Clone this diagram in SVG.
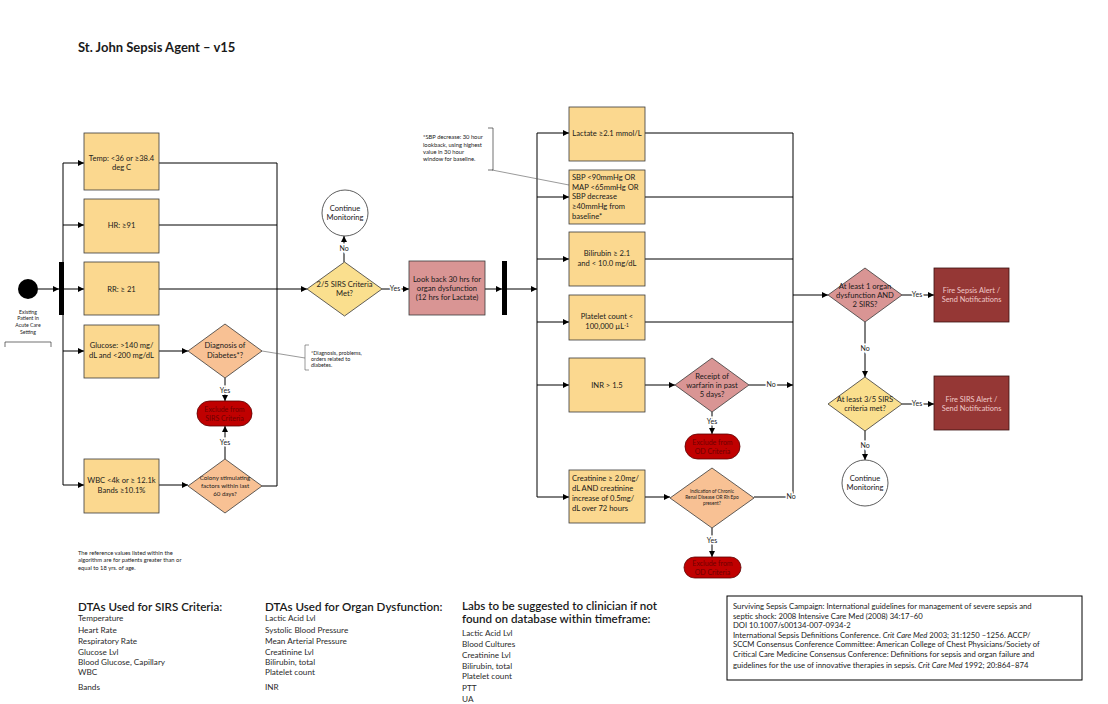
<svg xmlns="http://www.w3.org/2000/svg" width="1108" height="704" viewBox="0 0 1108 704">
<defs>
<marker id="ah" viewBox="0 0 10 10" refX="10" refY="5" markerWidth="6" markerHeight="6" markerUnits="userSpaceOnUse" orient="auto"><path d="M0,0 L10,5 L0,10 z" fill="#000"/></marker>
<style>
text{font-family:Lato,"Open Sans","Liberation Sans",sans-serif;fill:#1a1a1a}
.t{font-size:7.6px;text-anchor:middle}
.tl{font-size:7.6px}
.s{font-size:6.2px;text-anchor:middle}
.xs{font-size:4.8px;text-anchor:middle}
.n{font-size:5.8px}
.lab{font-size:7px;text-anchor:middle;stroke:#fff;stroke-width:3;paint-order:stroke}
.yb{fill:#FBD88F;stroke:#3a3a3a;stroke-width:0.8}
.yd{fill:#FADF8E;stroke:#3a3a3a;stroke-width:0.8}
.pd{fill:#F8C194;stroke:#3a3a3a;stroke-width:0.8}
.pk{fill:#D99594;stroke:#3a3a3a;stroke-width:0.8}
.ex{fill:#C00000;stroke:#5a0000;stroke-width:0.8}
.ext{font-size:7px;text-anchor:middle;fill:#6e0000}
.fb{fill:#953735;stroke:#3a1010;stroke-width:0.8}
.fbt{font-size:7.4px;text-anchor:middle;fill:#F0C8C8}
.cm{fill:#fff;stroke:#333;stroke-width:0.8}
.c line,.c path,.c polyline{stroke:#000;stroke-width:1;fill:none}
.c .g{stroke:#555;stroke-width:0.6}
.h{font-size:11.6px;font-weight:600}
.it{font-size:8.2px;fill:#2a2a2a}
.rf{font-size:7.7px}
</style>
</defs>
<rect width="1108" height="704" fill="#fff"/>
<text x="78" y="52" style="font-size:13px;font-weight:bold">St. John Sepsis Agent – v15</text>

<g class="c" id="connectors">
<line x1="38" y1="289" x2="59" y2="289" marker-end="url(#ah)"/>
<line x1="63" y1="163" x2="63" y2="485"/>
<line x1="63" y1="163" x2="84" y2="163" marker-end="url(#ah)"/>
<line x1="63" y1="225" x2="84" y2="225" marker-end="url(#ah)"/>
<line x1="64" y1="289" x2="84" y2="289" marker-end="url(#ah)"/>
<line x1="63" y1="351" x2="84" y2="351" marker-end="url(#ah)"/>
<line x1="63" y1="485" x2="84" y2="485" marker-end="url(#ah)"/>
<line x1="159" y1="163" x2="277" y2="163"/>
<line x1="159" y1="225" x2="277" y2="225"/>
<line x1="277" y1="163" x2="277" y2="486"/>
<line x1="159" y1="289" x2="307" y2="289" marker-end="url(#ah)"/>
<line x1="159" y1="351" x2="188" y2="351" marker-end="url(#ah)"/>
<line x1="159" y1="485" x2="188" y2="485" marker-end="url(#ah)"/>
<line x1="262" y1="486" x2="277" y2="486"/>
<line class="g" x1="262" y1="351" x2="305" y2="358"/>
<line x1="225" y1="378" x2="225" y2="401" marker-end="url(#ah)"/>
<line x1="225" y1="459" x2="225" y2="426" marker-end="url(#ah)"/>
<line x1="344" y1="262" x2="344" y2="236" marker-end="url(#ah)"/>
<line x1="382" y1="289" x2="409" y2="289" marker-end="url(#ah)"/>
<line x1="485" y1="289" x2="502" y2="289" marker-end="url(#ah)"/>
<line x1="507" y1="289" x2="537" y2="289" marker-end="url(#ah)"/>
<line x1="537" y1="133" x2="537" y2="497"/>
<line x1="537" y1="133" x2="569" y2="133" marker-end="url(#ah)"/>
<line x1="537" y1="197" x2="569" y2="197" marker-end="url(#ah)"/>
<line x1="537" y1="259" x2="569" y2="259" marker-end="url(#ah)"/>
<line x1="537" y1="322" x2="569" y2="322" marker-end="url(#ah)"/>
<line x1="537" y1="385" x2="569" y2="385" marker-end="url(#ah)"/>
<line x1="537" y1="497" x2="569" y2="497" marker-end="url(#ah)"/>
<line x1="645" y1="133" x2="793" y2="133"/>
<line x1="645" y1="197" x2="793" y2="197"/>
<line x1="645" y1="259" x2="793" y2="259"/>
<line x1="645" y1="322" x2="793" y2="322"/>
<line x1="645" y1="385" x2="675" y2="385" marker-end="url(#ah)"/>
<line x1="749" y1="385" x2="793" y2="385" marker-end="url(#ah)"/>
<line x1="712" y1="412" x2="712" y2="434" marker-end="url(#ah)"/>
<line x1="645" y1="497" x2="670" y2="497" marker-end="url(#ah)"/>
<line x1="754" y1="497" x2="793" y2="497"/>
<line x1="712" y1="528" x2="712" y2="557" marker-end="url(#ah)"/>
<line x1="793" y1="133" x2="793" y2="497"/>
<line x1="793" y1="295" x2="828" y2="295" marker-end="url(#ah)"/>
<line x1="902" y1="295" x2="934" y2="295" marker-end="url(#ah)"/>
<line x1="865" y1="322" x2="865" y2="377" marker-end="url(#ah)"/>
<line x1="902" y1="404" x2="934" y2="404" marker-end="url(#ah)"/>
<line x1="865" y1="430" x2="865" y2="460" marker-end="url(#ah)"/>
<line class="g" x1="492" y1="170" x2="569" y2="185"/>
<text class="lab" x="225" y="393">Yes</text>
<text class="lab" x="225" y="445">Yes</text>
<text class="lab" x="344" y="251">No</text>
<text class="lab" x="395" y="291">Yes</text>
<text class="lab" x="771" y="387">No</text>
<text class="lab" x="712" y="424">Yes</text>
<text class="lab" x="791" y="499">No</text>
<text class="lab" x="712" y="543">Yes</text>
<text class="lab" x="917" y="297">Yes</text>
<text class="lab" x="865" y="351">No</text>
<text class="lab" x="917" y="406">Yes</text>
<text class="lab" x="865" y="448">No</text>
</g>

<g id="start">
<circle cx="28" cy="289" r="10" fill="#000"/>
<text class="n" x="28" y="314" text-anchor="middle" style="font-size:5.2px">Existing</text>
<text class="n" x="28" y="320" text-anchor="middle" style="font-size:5.2px">Patient in</text>
<text class="n" x="28" y="327" text-anchor="middle" style="font-size:5.2px">Acute Care</text>
<text class="n" x="28" y="334" text-anchor="middle" style="font-size:5.2px">Setting</text>
<path d="M5,347 V342 H51 V347" fill="none" stroke="#333" stroke-width="0.7"/>
</g>
<g id="fork1"><rect x="59" y="262" width="5" height="53" fill="#000"/></g>

<g id="temp"><rect class="yb" x="84" y="133" width="75" height="57"/><text class="t" x="121.5" y="161">Temp: &lt;36 or ≥38.4</text><text class="t" x="121.5" y="170">deg C</text></g>
<g id="hr"><rect class="yb" x="84" y="199" width="75" height="54"/><text class="t" x="121.5" y="228">HR: ≥91</text></g>
<g id="rr"><rect class="yb" x="84" y="262" width="75" height="53"/><text class="t" x="121.5" y="292">RR: ≥ 21</text></g>
<g id="glucose"><rect class="yb" x="84" y="325" width="75" height="53"/><text class="t" x="121.5" y="348">Glucose: &gt;140 mg/</text><text class="t" x="121.5" y="358">dL and &lt;200 mg/dL</text></g>
<g id="wbc"><rect class="yb" x="84" y="459" width="75" height="54"/><text class="t" x="121.5" y="483">WBC &lt;4k or ≥ 12.1k</text><text class="t" x="121.5" y="493">Bands  ≥10.1%</text></g>

<g id="diabetes"><path class="pd" d="M188,351 L225,324 L262,351 L225,378 z"/><text class="t" x="225" y="348">Diagnosis of</text><text class="t" x="225" y="358">Diabetes*?</text></g>
<g id="diabetes-note"><path d="M309,345 H305 V370 H309" fill="none" stroke="#555" stroke-width="0.6"/><text class="n" x="311" y="355" style="font-size:5.4px">*Diagnosis, problems,</text><text class="n" x="311" y="361" style="font-size:5.4px">orders related to</text><text class="n" x="311" y="367" style="font-size:5.4px">diabetes.</text></g>
<g id="exclude-sirs"><rect class="ex" x="197" y="401" width="55" height="25" rx="12.5"/><text class="ext" x="224.5" y="412">Exclude from</text><text class="ext" x="224.5" y="421">SIRS Criteria</text></g>
<g id="colony"><path class="pd" d="M188,486 L225,459 L262,486 L225,513 z"/><text class="s" x="225" y="480">Colony stimulating</text><text class="s" x="225" y="488">factors within last</text><text class="s" x="225" y="496">60 days?</text></g>

<g id="sirs25"><path class="yd" d="M307,289 L344.5,262 L382,289 L344.5,316 z"/><text class="t" x="344.5" y="287">2/5 SIRS Criteria</text><text class="t" x="344.5" y="296">Met?</text></g>
<g id="continue1"><circle class="cm" cx="345" cy="213" r="23"/><text class="t" x="345" y="211">Continue</text><text class="t" x="345" y="220">Monitoring</text></g>
<g id="lookback"><rect class="pk" x="409" y="261" width="76" height="54"/><text class="t" x="447" y="282">Look back 30 hrs for</text><text class="t" x="447" y="291">organ dysfunction</text><text class="t" x="447" y="300">(12 hrs for Lactate)</text></g>
<g id="fork2"><rect x="502" y="261" width="5" height="54" fill="#000"/></g>

<g id="sbp-note"><path d="M488,128 H493 V170 H488" fill="none" stroke="#333" stroke-width="0.7"/><text class="n" x="423" y="139">*SBP decrease: 30 hour</text><text class="n" x="423" y="147">lookback, using highest</text><text class="n" x="423" y="154">value in 30 hour</text><text class="n" x="423" y="161">window for baseline.</text></g>

<g id="lactate"><rect class="yb" x="569" y="107" width="76" height="54"/><text class="t" x="607" y="136">Lactate ≥2.1 mmol/L</text></g>
<g id="sbp"><rect class="yb" x="569" y="170" width="76" height="54"/><text class="tl" x="572" y="180">SBP &lt;90mmHg OR</text><text class="tl" x="572" y="190">MAP &lt;65mmHg OR</text><text class="tl" x="572" y="199">SBP decrease</text><text class="tl" x="572" y="209">≥40mmHg from</text><text class="tl" x="572" y="219">baseline*</text></g>
<g id="bilirubin"><rect class="yb" x="569" y="232" width="76" height="54"/><text class="t" x="607" y="256">Bilirubin ≥ 2.1</text><text class="t" x="607" y="266">and &lt; 10.0 mg/dL</text></g>
<g id="platelet"><rect class="yb" x="569" y="295" width="76" height="45"/><text class="t" x="607" y="319">Platelet count &lt;</text><text class="t" x="607" y="329">100,000 µL<tspan dy="-2.5" style="font-size:4.8px">-1</tspan></text></g>
<g id="inr"><rect class="yb" x="569" y="358" width="76" height="54"/><text class="t" x="607" y="388">INR &gt; 1.5</text></g>
<g id="creatinine"><rect class="yb" x="569" y="470" width="76" height="53"/><text class="tl" x="572" y="481">Creatinine ≥ 2.0mg/</text><text class="tl" x="572" y="491">dL  AND creatinine</text><text class="tl" x="572" y="501">increase of 0.5mg/</text><text class="tl" x="572" y="511">dL over 72 hours</text></g>

<g id="warfarin"><path class="pk" d="M675,385 L712,358 L749,385 L712,412 z"/><text class="t" x="712" y="379">Receipt of</text><text class="t" x="712" y="388">warfarin in past</text><text class="t" x="712" y="397">5 days?</text></g>
<g id="exclude-od1"><rect class="ex" x="685" y="434" width="55" height="25" rx="12.5"/><text class="ext" x="712.5" y="445">Exclude from</text><text class="ext" x="712.5" y="454">OD Criteria</text></g>
<g id="renal"><path class="pd" d="M670,498 L712,468 L754,498 L712,528 z"/><text class="xs" x="712" y="493">Indication of Chronic</text><text class="xs" x="712" y="499">Renal Disease OR Rh Epo</text><text class="xs" x="712" y="505">present?</text></g>
<g id="exclude-od2"><rect class="ex" x="684" y="557" width="57" height="21" rx="10.5"/><text class="ext" x="712.5" y="566">Exclude from</text><text class="ext" x="712.5" y="575">OD Criteria</text></g>

<g id="organ-sirs"><path class="pk" d="M828,295 L865,268 L902,295 L865,322 z"/><text class="t" x="865" y="289">At least 1 organ</text><text class="t" x="865" y="298">dysfunction AND</text><text class="t" x="865" y="307">2 SIRS?</text></g>
<g id="fire-sepsis"><rect class="fb" x="934" y="268" width="75" height="54"/><text class="fbt" x="971.5" y="293">Fire Sepsis Alert /</text><text class="fbt" x="971.5" y="302">Send Notifications</text></g>
<g id="sirs35"><path class="yd" d="M828,404 L865,377 L902,404 L865,431 z"/><text class="t" x="865" y="402">At least 3/5 SIRS</text><text class="t" x="865" y="411">criteria met?</text></g>
<g id="fire-sirs"><rect class="fb" x="934" y="376" width="75" height="54"/><text class="fbt" x="971.5" y="402">Fire SIRS Alert /</text><text class="fbt" x="971.5" y="411">Send Notifications</text></g>
<g id="continue2"><circle class="cm" cx="865" cy="483" r="23"/><text class="t" x="865" y="481">Continue</text><text class="t" x="865" y="490">Monitoring</text></g>

<g id="age-note"><text class="n" x="78" y="555">The reference values listed within the</text><text class="n" x="78" y="562">algorithm are for patients greater than or</text><text class="n" x="78" y="570">equal to 18 yrs. of age.</text></g>

<g id="dtas-sirs">
<text class="h" x="78" y="611">DTAs Used for SIRS Criteria:</text>
<text class="it" x="78" y="621">Temperature</text>
<text class="it" x="78" y="633">Heart Rate</text>
<text class="it" x="78" y="644">Respiratory Rate</text>
<text class="it" x="78" y="655">Glucose Lvl</text>
<text class="it" x="78" y="665">Blood Glucose, Capillary</text>
<text class="it" x="78" y="675">WBC</text>
<text class="it" x="78" y="690">Bands</text>
</g>
<g id="dtas-organ">
<text class="h" x="265" y="611">DTAs Used for Organ Dysfunction:</text>
<text class="it" x="265" y="621">Lactic Acid Lvl</text>
<text class="it" x="265" y="633">Systolic Blood Pressure</text>
<text class="it" x="265" y="644">Mean Arterial Pressure</text>
<text class="it" x="265" y="655">Creatinine Lvl</text>
<text class="it" x="265" y="665">Bilirubin, total</text>
<text class="it" x="265" y="675">Platelet count</text>
<text class="it" x="265" y="690">INR</text>
</g>
<g id="labs">
<text class="h" x="462" y="610">Labs to be suggested to clinician if not</text>
<text class="h" x="462" y="623">found on database within timeframe:</text>
<text class="it" x="462" y="636">Lactic Acid Lvl</text>
<text class="it" x="462" y="647">Blood Cultures</text>
<text class="it" x="462" y="658">Creatinine Lvl</text>
<text class="it" x="462" y="669">Bilirubin, total</text>
<text class="it" x="462" y="679">Platelet count</text>
<text class="it" x="462" y="691">PTT</text>
<text class="it" x="462" y="702">UA</text>
</g>
<g id="references">
<rect x="727" y="596" width="355" height="84" fill="#fff" stroke="#000" stroke-width="1"/>
<text class="rf" x="733" y="609">Surviving Sepsis Campaign: International guidelines for management of severe sepsis and</text>
<text class="rf" x="733" y="619">septic shock: 2008 Intensive Care Med (2008) 34:17–60</text>
<text class="rf" x="733" y="628">DOI 10.1007/s00134-007-0934-2</text>
<text class="rf" x="733" y="638">International Sepsis Definitions Conference. <tspan font-style="italic">Crit Care Med</tspan> 2003; 31:1250 –1256. ACCP/</text>
<text class="rf" x="733" y="647">SCCM Consensus Conference Committee: American College of Chest Physicians/Society of</text>
<text class="rf" x="733" y="657">Critical Care Medicine Consensus Conference: Definitions for sepsis and organ failure and</text>
<text class="rf" x="733" y="668">guidelines for the use of innovative therapies in sepsis. <tspan font-style="italic">Crit Care Med</tspan> 1992; 20:864–874</text>
</g>
</svg>
